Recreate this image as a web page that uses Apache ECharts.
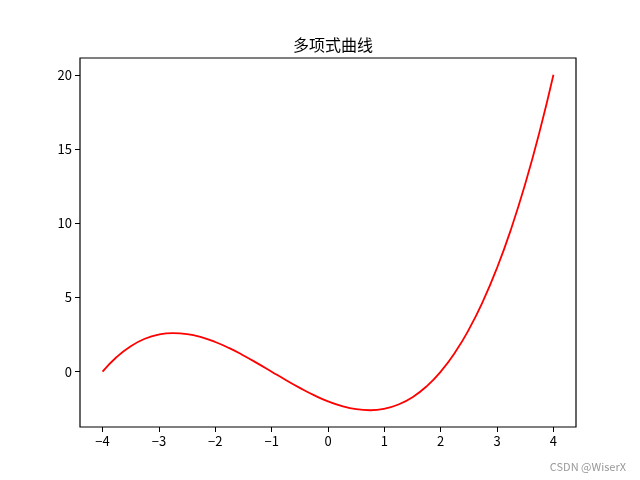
<!DOCTYPE html>
<html><head><meta charset="utf-8">
<script src="https://cdn.jsdelivr.net/npm/echarts@6/dist/echarts.min.js"></script>
<style>html,body{margin:0;padding:0;background:#fff}#c{width:640px;height:480px}</style>
</head><body><div id="c"></div>
<script>
const titleText = '多项式曲线';
const xValues = [-4,-3.75,-3.5,-3.25,-3,-2.75,-2.5,-2.25,-2,-1.75,-1.5,-1.25,-1,-0.75,-0.5,-0.25,0,0.25,0.5,0.75,1,1.25,1.5,1.75,2,2.25,2.5,2.75,3,3.25,3.5,3.75,4];
const yValues = [0,0.988,1.719,2.215,2.5,2.598,2.531,2.324,2,1.582,1.094,0.559,0,-0.559,-1.094,-1.582,-2,-2.324,-2.531,-2.598,-2.5,-2.215,-1.719,-0.988,0,1.270,2.844,4.746,7,9.629,12.656,16.105,20];
const xTicks = [-4,-3,-2,-1,0,1,2,3,4];
const yTicks = [0,5,10,15,20];
const watermark = 'CSDN @WiserX';

const font = '"Noto Sans CJK SC", "DejaVu Sans", sans-serif';
const fmt = v => String(v).replace('-', '\u2212');
const data = xValues.map((x, i) => [x, yValues[i]]);
const chart = echarts.init(document.getElementById('c'), null, {renderer: 'canvas'});
chart.setOption({
  animation: false,
  backgroundColor: '#fff',
  title: {text: titleText, left: 328, top: 32, textAlign: 'center',
    textStyle: {fontFamily: font, fontSize: 16, fontWeight: 'normal', color: '#000'}},
  grid: {left: 80, right: 64, top: 58, bottom: 53, show: true, borderColor: '#000', borderWidth: 1.2},
  xAxis: {type: 'value', min: -4.4, max: 4.4,
    splitLine: {show: false},
    axisLine: {show: false, onZero: false},
    axisTick: {show: true, customValues: xTicks, length: 5, inside: false, lineStyle: {color: '#000', width: 1}},
    axisLabel: {customValues: xTicks, formatter: fmt, color: '#000', fontFamily: font, fontSize: 13, margin: 8}},
  yAxis: {type: 'value', min: -3.728, max: 21.13,
    splitLine: {show: false},
    axisLine: {show: false, onZero: false},
    axisTick: {show: true, customValues: yTicks, length: 5, inside: false, lineStyle: {color: '#000', width: 1}},
    axisLabel: {customValues: yTicks, formatter: fmt, color: '#000', fontFamily: font, fontSize: 13, margin: 8}},
  series: [{type: 'line', data: data, smooth: true, showSymbol: false,
    lineStyle: {color: '#ff0000', width: 1.8}}],
  graphic: [{type: 'text', right: 14, bottom: 8,
    style: {text: watermark, fill: '#999', font: '11px ' + font}}]
});
</script></body></html>
